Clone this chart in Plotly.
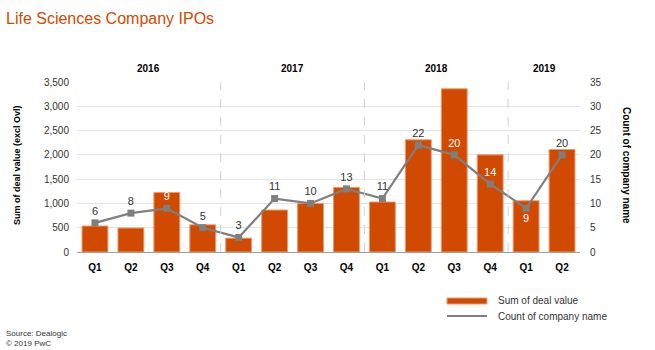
import plotly.graph_objects as go

quarters = ["Q1", "Q2", "Q3", "Q4", "Q1", "Q2", "Q3", "Q4", "Q1", "Q2", "Q3", "Q4", "Q1", "Q2"]
years = ["2016", "2017", "2018", "2019"]
year_counts = [4, 4, 4, 2]
deal_value = [535, 494, 1225, 560, 285, 865, 1000, 1330, 1030, 2310, 3360, 2000, 1055, 2110]
company_count = [6, 8, 9, 5, 3, 11, 10, 13, 11, 22, 20, 14, 9, 20]
label_inside = [False, False, True, False, False, False, False, False, False, False, True, True, True, False]
label_below = [False, False, False, False, False, False, False, False, False, False, False, False, True, False]

ORANGE = "#d04a02"
GRAY = "#7f7f7f"
FONT = "Liberation Sans, Arial, sans-serif"

xs = list(range(len(quarters)))

fig = go.Figure()
fig.add_trace(go.Bar(
    x=xs, y=deal_value, name="Sum of deal value",
    marker=dict(color=ORANGE, line=dict(color="#ee9a6c", width=1)),
    yaxis="y", showlegend=False,
))
fig.add_trace(go.Scatter(
    x=xs, y=company_count, name="Count of company name",
    mode="lines+markers+text",
    line=dict(color=GRAY, width=2.2),
    marker=dict(symbol="square", size=7, color=GRAY),
    text=[str(v) for v in company_count],
    textposition=["bottom center" if b else "top center" for b in label_below],
    textfont=dict(size=11, family=FONT,
                  color=["#ffffff" if i else "#333333" for i in label_inside]),
    yaxis="y2", showlegend=False, cliponaxis=False,
))

shapes = []
annotations = []
# year dividers and labels
start = 0
for yr, n in zip(years, year_counts):
    if start > 0:
        shapes.append(dict(type="line", xref="x", yref="paper", x0=start - 0.5, x1=start - 0.5,
                           y0=0, y1=1, line=dict(color="#d0d0d0", width=1, dash="dash")))
    annotations.append(dict(text="<b>%s</b>" % yr, xref="x", yref="paper",
                            x=start + (n - 1) / 2, y=1.082, yanchor="middle", showarrow=False,
                            font=dict(size=10, color="#000000", family=FONT)))
    start += n

# axis titles
annotations.append(dict(text="<b>Sum of deal value (excl Ovl)</b>", xref="paper", yref="paper",
                        x=-0.119, y=0.512, textangle=-90, showarrow=False,
                        xanchor="center", yanchor="middle",
                        font=dict(size=9, color="#000000", family=FONT)))
annotations.append(dict(text="<b>Count of company name</b>", xref="paper", yref="paper",
                        x=1.0915, y=0.512, textangle=90, showarrow=False,
                        xanchor="center", yanchor="middle",
                        font=dict(size=10, color="#000000", family=FONT)))

# custom legend
shapes.append(dict(type="rect", xref="paper", yref="paper", x0=0.7356, x1=0.815,
                   y0=-0.306, y1=-0.2706, fillcolor=ORANGE, line=dict(color="#ee9a6c", width=1)))
shapes.append(dict(type="line", xref="paper", yref="paper", x0=0.7356, x1=0.815,
                   y0=-0.3765, y1=-0.3765, line=dict(color=GRAY, width=2.2)))
annotations.append(dict(text="Sum of deal value", xref="paper", yref="paper", x=0.833, y=-0.288,
                        xanchor="left", yanchor="middle", showarrow=False,
                        font=dict(size=10, color="#333333", family=FONT)))
annotations.append(dict(text="Count of company name", xref="paper", yref="paper", x=0.833, y=-0.3765,
                        xanchor="left", yanchor="middle", showarrow=False,
                        font=dict(size=10, color="#333333", family=FONT)))

# source
annotations.append(dict(text="Source: Dealogic<br>© 2019 PwC", xref="paper", yref="paper",
                        x=-0.145, y=-0.508, xanchor="left", yanchor="middle", align="left",
                        showarrow=False, font=dict(size=8, color="#333333", family=FONT)))

fig.update_layout(
    width=655, height=350,
    margin=dict(l=77, r=75, t=82, b=98),
    paper_bgcolor="white", plot_bgcolor="white",
    font=dict(family=FONT, size=10, color="#333333"),
    title=dict(text="Life Sciences Company IPOs", x=6 / 655, xanchor="left", xref="container",
               y=1 - 18 / 350, yanchor="middle", yref="container",
               font=dict(size=16, color=ORANGE, family=FONT)),
    bargap=0.28,
    xaxis=dict(range=[-0.5, len(quarters) - 0.5], tickvals=xs,
               ticktext=["<b>%s</b>" % q for q in quarters],
               tickfont=dict(size=10, color="#000000"), showgrid=False,
               showline=True, linecolor="#a0a0a0", linewidth=1.2, ticks="", zeroline=False,
               ticklabelstandoff=6),
    yaxis=dict(range=[0, 3500], dtick=500, tickformat=",", showgrid=True, gridcolor="#e3e3e3",
               gridwidth=1, zeroline=False, ticks="", tickfont=dict(size=10, color="#333333"),
               ticklabelstandoff=7),
    yaxis2=dict(range=[0, 35], dtick=5, overlaying="y", side="right", showgrid=False,
                zeroline=False, ticks="", tickfont=dict(size=10, color="#333333"),
                ticklabelstandoff=9),
    shapes=shapes, annotations=annotations,
    showlegend=False,
)

fig.write_html("out.html")
